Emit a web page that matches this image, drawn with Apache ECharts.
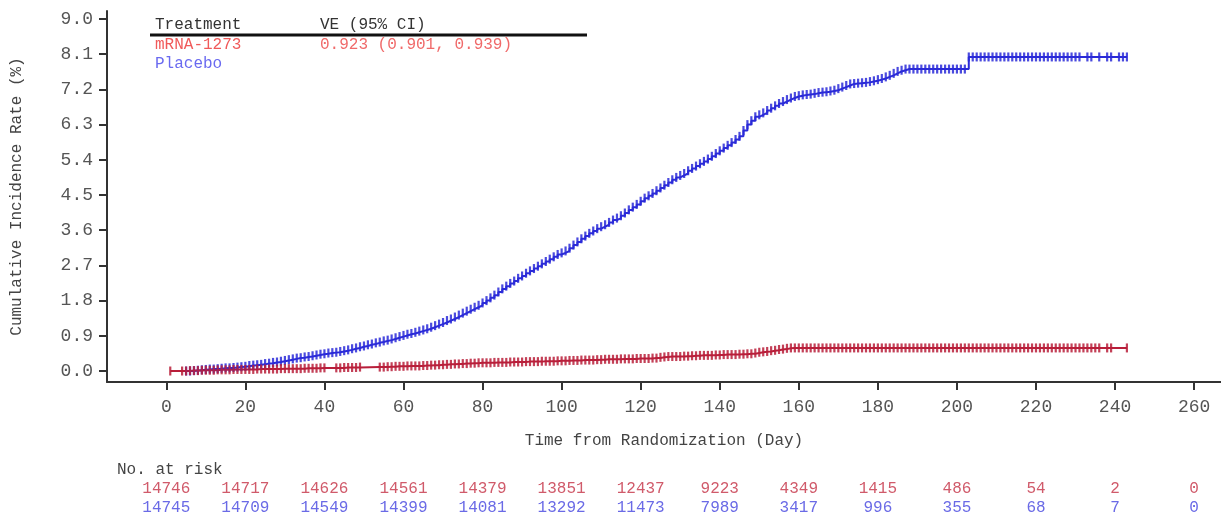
<!DOCTYPE html>
<html lang="en">
<head>
    <meta charset="UTF-8"/>
    <title>Cumulative incidence</title>
    <script src="https://cdn.jsdelivr.net/npm/echarts@6/dist/echarts.min.js"></script>
    <style>
        html, body { margin: 0; padding: 0; background: #fff; }
    </style>
</head>
<body>
<div id="main" style="width: 1221px;height:519px;"></div>
<script type="text/javascript">
    // tick labels
    var xTicks = [0, 20, 40, 60, 80, 100, 120, 140, 160, 180, 200, 220, 240, 260];
    var yTicks = [0, 0.9, 1.8, 2.7, 3.6, 4.5, 5.4, 6.3, 7.2, 8.1, 9.0];

    // number at risk under each x tick
    var riskMrna = [14746, 14717, 14626, 14561, 14379, 13851, 12437, 9223, 4349, 1415, 486, 54, 2, 0];
    var riskPlacebo = [14745, 14709, 14549, 14399, 14081, 13292, 11473, 7989, 3417, 996, 355, 68, 7, 0];

    // placebo curve: day / cumulative rate (%)
    var placeboDays = [
        5, 6, 7, 8, 9, 10, 11, 12, 13, 14,
        15, 16, 17, 18, 19, 20, 21, 22, 23, 24,
        25, 26, 27, 28, 29, 30, 31, 32, 33, 34,
        35, 36, 37, 38, 39, 40, 41, 42, 43, 44,
        45, 46, 47, 48, 49, 50, 51, 52, 53, 54,
        55, 56, 57, 58, 59, 60, 61, 62, 63, 64,
        65, 66, 67, 68, 69, 70, 71, 72, 73, 74,
        75, 76, 77, 78, 79, 80, 81, 82, 83, 84,
        85, 86, 87, 88, 89, 90, 91, 92, 93, 94,
        95, 96, 97, 98, 99, 100, 101, 102, 103, 104,
        105, 106, 107, 108, 109, 110, 111, 112, 113, 114,
        115, 116, 117, 118, 119, 120, 121, 122, 123, 124,
        125, 126, 127, 128, 129, 130, 131, 132, 133, 134,
        135, 136, 137, 138, 139, 140, 141, 142, 143, 144,
        145, 146, 147, 148, 149, 150, 151, 152, 153, 154,
        155, 156, 157, 158, 159, 160, 161, 162, 163, 164,
        165, 166, 167, 168, 169, 170, 171, 172, 173, 174,
        175, 176, 177, 178, 179, 180, 181, 182, 183, 184,
        185, 186, 187, 188, 189, 190, 191, 192, 193, 194,
        195, 196, 197, 198, 199, 200, 201, 202,
        203, 204, 205, 206, 207, 208, 209, 210, 211, 212,
        213, 214, 215, 216, 217, 218, 219, 220, 221, 222,
        223, 224, 225, 226, 227, 228, 229, 230, 231,
        233, 234, 236, 238, 239, 241, 242, 243];
    var placeboRate = [
        0.00, 0.00, 0.01, 0.02, 0.03, 0.04, 0.05, 0.05, 0.06, 0.07,
        0.08, 0.08, 0.09, 0.10, 0.11, 0.12, 0.14, 0.15, 0.16, 0.17,
        0.19, 0.20, 0.22, 0.23, 0.25, 0.27, 0.29, 0.31, 0.33, 0.34,
        0.36, 0.37, 0.39, 0.41, 0.43, 0.44, 0.46, 0.47, 0.48, 0.50,
        0.52, 0.54, 0.57, 0.59, 0.62, 0.64, 0.67, 0.69, 0.72, 0.74,
        0.77, 0.79, 0.82, 0.85, 0.88, 0.91, 0.94, 0.96, 0.99, 1.02,
        1.05, 1.08, 1.12, 1.16, 1.20, 1.24, 1.29, 1.33, 1.38, 1.43,
        1.48, 1.53, 1.58, 1.63, 1.68, 1.74, 1.80, 1.87, 1.94, 2.02,
        2.10, 2.17, 2.24, 2.30, 2.37, 2.43, 2.50, 2.56, 2.62, 2.68,
        2.74, 2.80, 2.86, 2.92, 2.98, 3.02, 3.07, 3.14, 3.22, 3.30,
        3.38, 3.45, 3.52, 3.58, 3.64, 3.69, 3.74, 3.80, 3.86, 3.91,
        3.97, 4.04, 4.12, 4.19, 4.26, 4.34, 4.42, 4.48, 4.54, 4.61,
        4.68, 4.75, 4.82, 4.89, 4.95, 5.00, 5.05, 5.12, 5.18, 5.24,
        5.30, 5.36, 5.42, 5.49, 5.56, 5.63, 5.70, 5.77, 5.84, 5.92,
        6.00, 6.15, 6.30, 6.40, 6.50, 6.55, 6.60, 6.66, 6.72, 6.78,
        6.84, 6.89, 6.94, 6.98, 7.02, 7.04, 7.06, 7.07, 7.08, 7.10,
        7.12, 7.13, 7.14, 7.16, 7.18, 7.22, 7.26, 7.30, 7.34, 7.35,
        7.36, 7.37, 7.38, 7.40, 7.42, 7.45, 7.48, 7.52, 7.56, 7.61,
        7.66, 7.69, 7.72, 7.72, 7.72, 7.72, 7.72, 7.72, 7.72, 7.72,
        7.72, 7.72, 7.72, 7.72, 7.72, 7.72, 7.72, 7.72,
        8.03, 8.03, 8.03, 8.03, 8.03, 8.03, 8.03, 8.03, 8.03, 8.03,
        8.03, 8.03, 8.03, 8.03, 8.03, 8.03, 8.03, 8.03, 8.03, 8.03,
        8.03, 8.03, 8.03, 8.03, 8.03, 8.03, 8.03, 8.03, 8.03,
        8.03, 8.03, 8.03, 8.03, 8.03, 8.03, 8.03, 8.03];

    // mRNA-1273 curve
    var mrnaDays = [
        1,
        4, 5, 6, 7, 8, 9, 10, 11, 12, 13,
        14, 15, 16, 17, 18, 19, 20, 21, 22, 23,
        24, 25, 26, 27, 28, 29, 30, 31, 32, 33,
        34, 35, 36, 37, 38, 39, 40,
        43, 44, 45, 46, 47, 48, 49,
        54, 55, 56, 57, 58, 59, 60, 61, 62, 63,
        64, 65, 66, 67, 68, 69, 70, 71, 72, 73,
        74, 75, 76, 77, 78, 79, 80, 81, 82, 83,
        84, 85, 86, 87, 88, 89, 90, 91, 92, 93,
        94, 95, 96, 97, 98, 99, 100, 101, 102, 103,
        104, 105, 106, 107, 108, 109, 110, 111, 112, 113,
        114, 115, 116, 117, 118, 119, 120, 121, 122, 123,
        124, 125, 126, 127, 128, 129, 130, 131, 132, 133,
        134, 135, 136, 137, 138, 139, 140, 141, 142, 143,
        144, 145, 146, 147, 148, 149, 150, 151, 152, 153,
        154, 155, 156, 157, 158,
        159, 160, 161, 162, 163, 164, 165, 166, 167, 168,
        169, 170, 171, 172, 173, 174, 175, 176, 177, 178,
        179, 180, 181, 182, 183, 184, 185, 186, 187, 188,
        189, 190, 191, 192, 193, 194, 195, 196, 197, 198,
        199, 200, 201, 202, 203, 204, 205, 206, 207, 208,
        209, 210, 211, 212, 213, 214, 215, 216, 217, 218,
        219, 220, 221, 222, 223, 224, 225, 226, 227, 228,
        229, 230, 231, 232, 233, 234, 235, 236,
        238, 239, 243];
    var mrnaRate = [
        0.00,
        0.00, 0.00, 0.01, 0.01, 0.01, 0.02, 0.02, 0.02, 0.02, 0.03,
        0.03, 0.03, 0.03, 0.04, 0.04, 0.04, 0.04, 0.04, 0.04, 0.05,
        0.05, 0.05, 0.05, 0.05, 0.05, 0.06, 0.06, 0.06, 0.06, 0.06,
        0.06, 0.07, 0.07, 0.07, 0.07, 0.08, 0.08,
        0.08, 0.08, 0.09, 0.09, 0.09, 0.09, 0.10,
        0.10, 0.10, 0.11, 0.11, 0.12, 0.12, 0.12, 0.13, 0.13, 0.13,
        0.13, 0.14, 0.14, 0.15, 0.15, 0.16, 0.16, 0.17, 0.17, 0.18,
        0.18, 0.19, 0.19, 0.20, 0.20, 0.21, 0.21, 0.21, 0.21, 0.22,
        0.22, 0.22, 0.22, 0.23, 0.23, 0.23, 0.23, 0.24, 0.24, 0.24,
        0.24, 0.25, 0.25, 0.25, 0.25, 0.26, 0.26, 0.26, 0.27, 0.27,
        0.27, 0.28, 0.28, 0.28, 0.28, 0.29, 0.29, 0.30, 0.30, 0.30,
        0.30, 0.31, 0.31, 0.31, 0.31, 0.32, 0.32, 0.32, 0.32, 0.33,
        0.33, 0.35, 0.36, 0.37, 0.37, 0.37, 0.37, 0.38, 0.38, 0.39,
        0.39, 0.40, 0.40, 0.40, 0.40, 0.41, 0.41, 0.42, 0.42, 0.42,
        0.42, 0.43, 0.43, 0.44, 0.44, 0.46, 0.48, 0.49, 0.50, 0.52,
        0.53, 0.55, 0.56, 0.58, 0.59,
        0.59, 0.59, 0.59, 0.59, 0.59, 0.59, 0.59, 0.59, 0.59, 0.59,
        0.59, 0.59, 0.59, 0.59, 0.59, 0.59, 0.59, 0.59, 0.59, 0.59,
        0.59, 0.59, 0.59, 0.59, 0.59, 0.59, 0.59, 0.59, 0.59, 0.59,
        0.59, 0.59, 0.59, 0.59, 0.59, 0.59, 0.59, 0.59, 0.59, 0.59,
        0.59, 0.59, 0.59, 0.59, 0.59, 0.59, 0.59, 0.59, 0.59, 0.59,
        0.59, 0.59, 0.59, 0.59, 0.59, 0.59, 0.59, 0.59, 0.59, 0.59,
        0.59, 0.59, 0.59, 0.59, 0.59, 0.59, 0.59, 0.59, 0.59, 0.59,
        0.59, 0.59, 0.59, 0.59, 0.59, 0.59, 0.59, 0.59,
        0.59, 0.59, 0.59];

    function pairs(days, rate) {
        var out = [];
        for (var i = 0; i < days.length; i++) {
            out.push([days[i], rate[i]]);
        }
        return out;
    }

    var FONT = 'Liberation Mono';
    var X_MIN = -15, X_MAX = 266.8;

    function riskAxis(values, color, offset) {
        return {
            type: 'value', gridIndex: 0, position: 'bottom', offset: offset,
            min: X_MIN, max: X_MAX,
            axisLine: {show: false, onZero: false}, axisTick: {show: false}, splitLine: {show: false},
            axisLabel: {
                customValues: xTicks, margin: 0,
                color: color, fontFamily: FONT, fontSize: 16,
                formatter: function (v) {
                    var i = xTicks.indexOf(Math.round(v));
                    return i < 0 ? '' : String(values[i]);
                }
            }
        };
    }

    var myChart = echarts.init(document.getElementById('main'));

    var option = {
        animation: false,
        grid: {left: 107, right: 0, top: 11, bottom: 137, containLabel: false},
        xAxis: [
            {
                type: 'value', min: X_MIN, max: X_MAX,
                name: 'Time from Randomization (Day)',
                nameLocation: 'middle', nameGap: 51,
                nameTextStyle: {fontFamily: FONT, fontSize: 16, color: '#444'},
                axisLine: {onZero: false, lineStyle: {color: '#333', width: 2}},
                axisTick: {customValues: xTicks, length: 8, lineStyle: {color: '#333', width: 2}},
                axisLabel: {customValues: xTicks, margin: 16, fontFamily: FONT, fontSize: 18, color: '#555'},
                splitLine: {show: false}
            },
            riskAxis(riskMrna, '#d05a6a', 99),
            riskAxis(riskPlacebo, '#6a6ae6', 118)
        ],
        yAxis: {
            type: 'value', min: -0.281, max: 9.205,
            name: 'Cumulative Incidence Rate (%)',
            nameLocation: 'middle', nameGap: 82, nameRotate: 90,
            nameTextStyle: {fontFamily: FONT, fontSize: 16, color: '#444'},
            axisLine: {show: true, onZero: false, lineStyle: {color: '#333', width: 2}},
            axisTick: {show: true, customValues: yTicks, length: 8, lineStyle: {color: '#333', width: 2}},
            axisLabel: {
                customValues: yTicks, margin: 14, fontFamily: FONT, fontSize: 18, color: '#555',
                formatter: function (v) { return v.toFixed(1); }
            },
            splitLine: {show: false}
        },
        graphic: [
            {type: 'text', left: 155, top: 17, style: {text: 'Treatment', font: '16px "Liberation Mono"', fill: '#333'}},
            {type: 'text', left: 320, top: 17, style: {text: 'VE (95% CI)', font: '16px "Liberation Mono"', fill: '#333'}},
            {type: 'line', shape: {x1: 150, y1: 35, x2: 587, y2: 35}, style: {stroke: '#111', lineWidth: 3}},
            {type: 'text', left: 155, top: 37, style: {text: 'mRNA-1273', font: '16px "Liberation Mono"', fill: '#f05a5a'}},
            {type: 'text', left: 320, top: 37, style: {text: '0.923 (0.901, 0.939)', font: '16px "Liberation Mono"', fill: '#f06a6a'}},
            {type: 'text', left: 155, top: 56, style: {text: 'Placebo', font: '16px "Liberation Mono"', fill: '#6a6af0'}},
            {type: 'text', left: 117, top: 462, style: {text: 'No. at risk', font: '16px "Liberation Mono"', fill: '#444'}}
        ],
        series: [
            {
                name: 'Placebo', type: 'line', step: 'end',
                data: pairs(placeboDays, placeboRate),
                symbol: 'rect', symbolSize: [2.2, 9],
                lineStyle: {color: '#2a2ad8', width: 2},
                itemStyle: {color: 'rgba(42,42,216,0.85)'}
            },
            {
                name: 'mRNA-1273', type: 'line', step: 'end',
                data: pairs(mrnaDays, mrnaRate),
                symbol: 'rect', symbolSize: [2.2, 9],
                lineStyle: {color: '#b81e3a', width: 2},
                itemStyle: {color: 'rgba(184,30,58,0.85)'}
            }
        ]
    };

    myChart.setOption(option);
</script>
</body>
</html>
